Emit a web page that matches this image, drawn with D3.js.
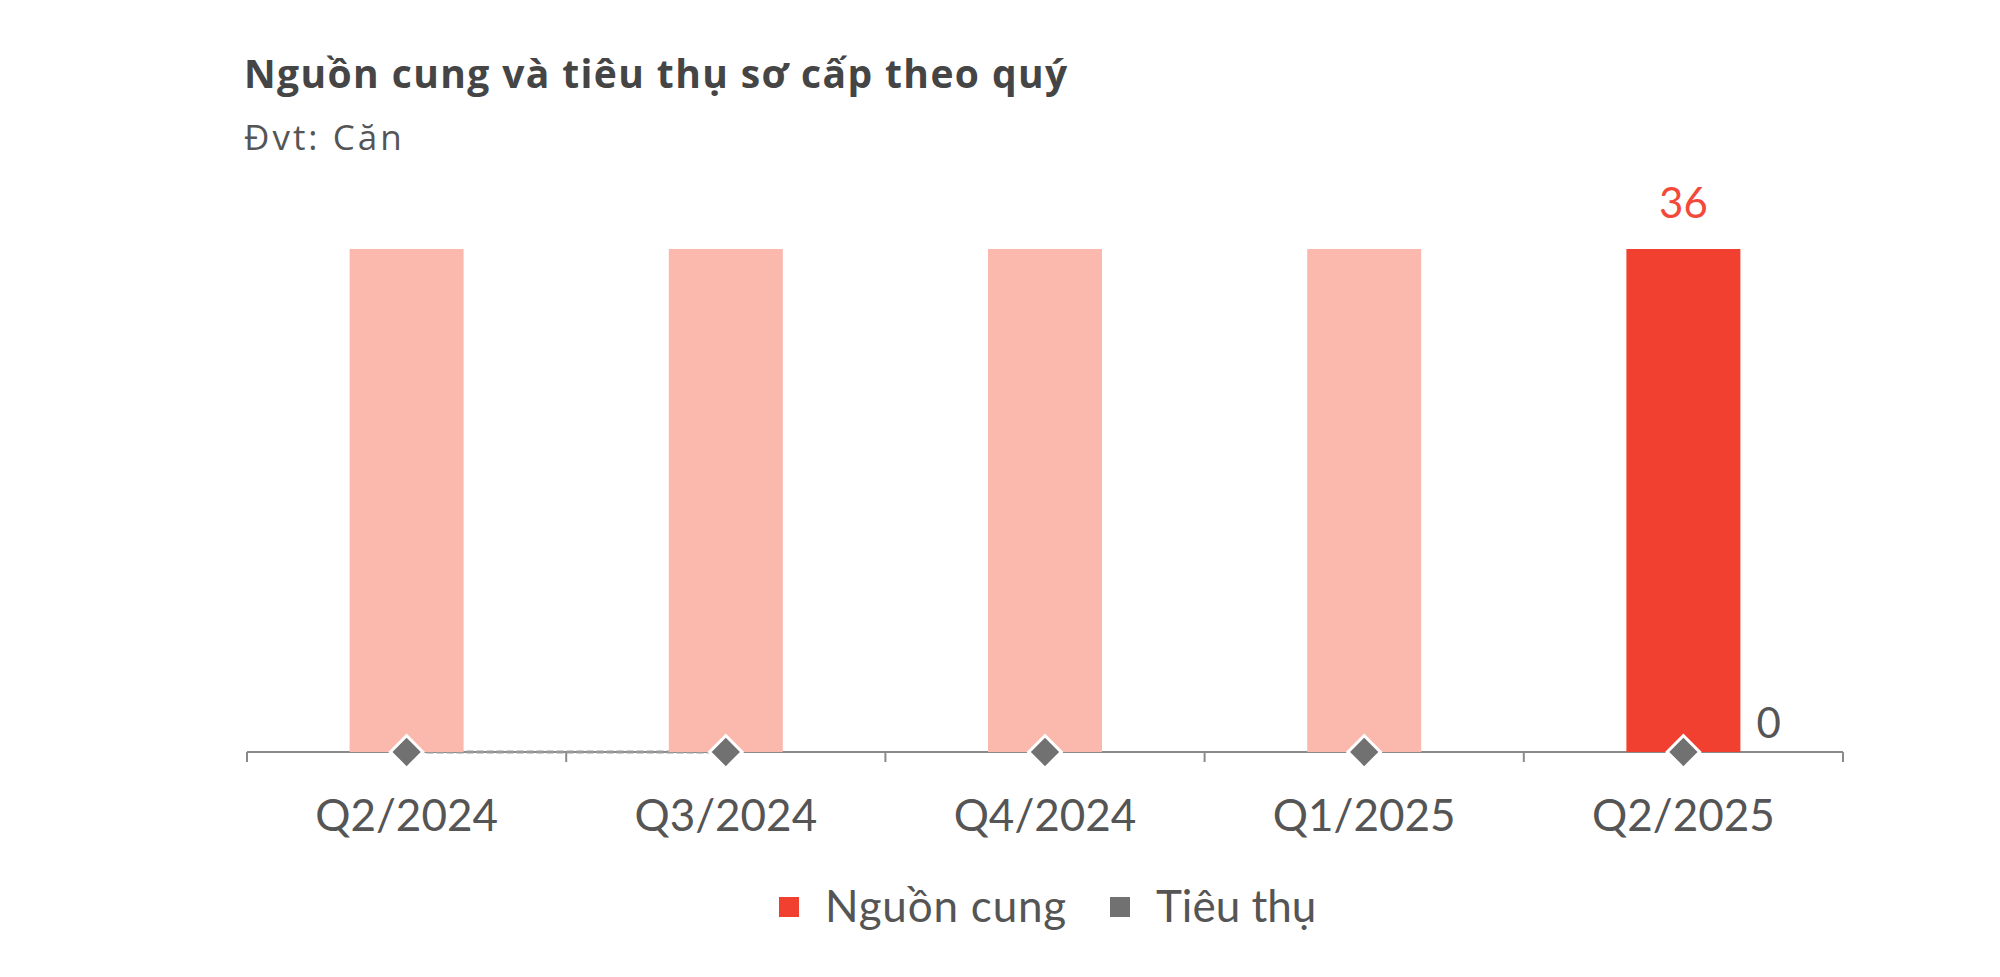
<!DOCTYPE html>
<html><head><meta charset="utf-8">
<script src="https://cdn.jsdelivr.net/npm/d3@7"></script>
<style>
html,body{margin:0;padding:0;background:#fff;}
svg{display:block;font-family:Lato,"Open Sans",sans-serif;}
</style></head>
<body>
<svg id="chart" width="2000" height="977"></svg>
<script>
const categories = ["Q2/2024","Q3/2024","Q4/2024","Q1/2025","Q2/2025"];
const supply = [36,36,36,36,36];
const consumption = [0,0,0,0,0];
const seriesNames = ["Nguồn cung","Tiêu thụ"];
const titleText = "Nguồn cung và tiêu thụ sơ cấp theo quý";
const subtitleText = "Đvt: Căn";

(function(){
const svg = d3.select("#chart");
const left = 247, right = 1843, base = 752, topY = 249;
const FONT = "Lato,'Open Sans',sans-serif";
const TFONT = "'Open Sans',Lato,sans-serif";

const x = d3.scaleBand().domain(categories).range([left,right]).paddingInner(0).paddingOuter(0);
const y = d3.scaleLinear().domain([0,36]).range([base, topY]);
const barW = 114;

svg.append("text").attr("x",244).attr("y",88).attr("font-family",TFONT)
  .attr("font-size",39).attr("font-weight",700).attr("fill","#454545")
  .attr("letter-spacing",1.4).text(titleText);
svg.append("text").attr("x",244).attr("y",150).attr("font-family",TFONT)
  .attr("font-size",35).attr("fill","#555").attr("letter-spacing",3).text(subtitleText);

// axis line + ticks
const ax = svg.append("g").attr("transform",`translate(0,${base})`)
  .call(d3.axisBottom(x).tickSize(0).tickPadding(48));
ax.select(".domain").remove();
ax.selectAll("text").attr("font-size",44).attr("fill","#555").attr("font-family",FONT);
svg.append("line").attr("x1",left).attr("x2",right).attr("y1",base).attr("y2",base)
  .attr("stroke","#8a8a8a").attr("stroke-width",2);
const bounds = categories.map(c=>x(c)).concat([right]);
svg.append("g").selectAll("line").data(bounds).join("line")
  .attr("x1",d=>d).attr("x2",d=>d).attr("y1",base).attr("y2",base+10)
  .attr("stroke","#8a8a8a").attr("stroke-width",2);

// dashed consumption segment behind bars
const line = d3.line().x((d,i)=>x(categories[i])+x.bandwidth()/2).y(d=>y(d));
svg.append("path").datum(consumption.slice(0,2)).attr("d",line)
  .attr("fill","none").attr("stroke","#9a9a9a").attr("stroke-width",3).attr("stroke-dasharray","7,3");

// bars
svg.append("g").selectAll("rect").data(supply).join("rect")
  .attr("x",(d,i)=>x(categories[i])+x.bandwidth()/2-barW/2)
  .attr("y",d=>y(d)).attr("width",barW).attr("height",d=>base-y(d))
  .attr("fill",(d,i)=>i===supply.length-1?"#F13F30":"#FBB9AD");

// diamonds
svg.append("g").selectAll("path").data(consumption).join("path")
  .attr("transform",(d,i)=>`translate(${x(categories[i])+x.bandwidth()/2},${y(d)}) rotate(45)`)
  .attr("d","M-11.5,-11.5H11.5V11.5H-11.5Z")
  .attr("fill","#717171").attr("stroke","#fff").attr("stroke-width",3);

// labels
const li = supply.length-1;
const cx = x(categories[li])+x.bandwidth()/2;
svg.append("text").attr("x",cx).attr("y",y(supply[li])-31).attr("text-anchor","middle")
  .attr("font-size",42).attr("fill","#F2493A").text(supply[li]);
svg.append("text").attr("x",cx+barW/2+16).attr("y",y(consumption[li])-14)
  .attr("font-size",42).attr("fill","#555").text(consumption[li]);

// legend
const lg = svg.append("g");
const legendItems = [{name:seriesNames[0],color:"#F13F30",x:779,ls:0.8},{name:seriesNames[1],color:"#717171",x:1110,ls:0}];
legendItems.forEach(it=>{
  lg.append("rect").attr("x",it.x).attr("y",897).attr("width",20).attr("height",20).attr("fill",it.color);
  lg.append("text").attr("x",it.x+46).attr("y",922).attr("font-size",44).attr("letter-spacing",it.ls)
    .attr("fill","#555").text(it.name);
});
})();
</script>
</body></html>
